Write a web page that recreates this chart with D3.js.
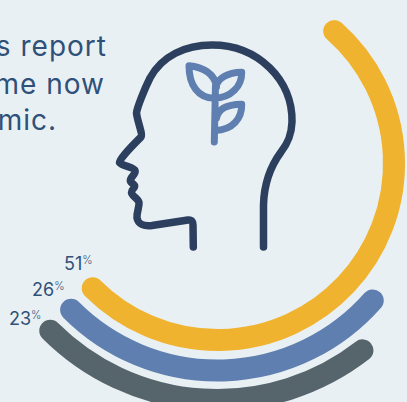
<!DOCTYPE html>
<html>
<head>
<meta charset="utf-8">
<script src="https://cdn.jsdelivr.net/npm/d3@7/dist/d3.min.js"></script>
<style>
  html, body { margin: 0; padding: 0; background: #e9f0f4; overflow: hidden; }
  svg { display: block; font-family: Inter, "Open Sans", sans-serif; }
</style>
</head>
<body>
<svg id="chart" width="407" height="402"></svg>
<script>
// Share of respondents per ring, outermost ring last
const shares = [51, 26, 23];
const shareLabels = ["51", "26", "23"];
const ringColors = ["#f0b32f", "#5f7fb0", "#56646c"];
const ringRadii = [176.5, 207, 236.5];
const labelAnchors = [[64, 270], [32, 296], [9, 325]];
const headlineLines = ["s report", "me now", "mic."];
const headlineEnds = [107, 105, 57];
const headlineBaselines = [55.7, 94.3, 130.3];

const svg = d3.select("#chart");
const cx = 217.5, cy = 163.5;

// 100% is one full turn, running counter-clockwise from the lower left
const angle = d3.scaleLinear().domain([0, 100]).range([225, -135]);
const toCanvas = deg => (deg - 90) * Math.PI / 180;

const rings = svg.append("g").attr("transform", `translate(${cx},${cy})`);
rings.selectAll("path")
  .data(shares)
  .join("path")
  .attr("d", (d, i) => {
    const p = d3.path();
    p.arc(0, 0, ringRadii[i], toCanvas(angle(0)), toCanvas(angle(d)), true);
    return p.toString();
  })
  .attr("fill", "none")
  .attr("stroke", (d, i) => ringColors[i])
  .attr("stroke-width", 22)
  .attr("stroke-linecap", "round");

// Head outline
svg.append("path")
  .attr("d", "M193.3,247 L193,225 C193,221 191,219.5 188,220 L152,225.5 C144,226.5 138,224 137,218 C136.5,212 139.5,207 139,202.5 C138,198 131.5,196 131.5,192.5 C131.5,189 135.5,188 134.5,185.5 C133.5,183 129.5,183 130.5,179.5 C131.5,176 136,174 135,170.5 C134,167 122,166 119.5,162.5 C119,160 128,150 141,137 C143,134 137,120 136.5,113 C137,108 144,90 150,78 C162,56 185,45 212,45 C258,45 293,80 292,122 C291.5,135 288,143 281,152 C270,167 264,184 263.5,205 L263.5,247")
  .attr("fill", "none")
  .attr("stroke", "#2c3f5e")
  .attr("stroke-width", 7.5)
  .attr("stroke-linecap", "round")
  .attr("stroke-linejoin", "round");

// Sprout inside the head
svg.append("path")
  .attr("d", "M214.3,142 L215.5,85 M214.3,98.3 C198,98 189,85 189,65.7 C203,67 215,74 216.5,87 M215.7,88 C217,78 228,72.5 241.7,72.3 C242,86 231,98 214.3,98.3 M216.5,118 C218,110 226,104.5 241.7,104.3 C242,118 233,130 215,130.5")
  .attr("fill", "none")
  .attr("stroke", "#5f7fb0")
  .attr("stroke-width", 7)
  .attr("stroke-linecap", "round")
  .attr("stroke-linejoin", "round");

// Headline, running off the left edge
svg.append("g").selectAll("text")
  .data(headlineLines)
  .join("text")
  .attr("x", (d, i) => headlineEnds[i])
  .attr("y", (d, i) => headlineBaselines[i])
  .attr("text-anchor", "end")
  .attr("font-size", 28)
  .attr("letter-spacing", 1)
  .attr("fill", "#2f5078")
  .text(d => d);

// Ring value labels with a small raised percent sign
const labels = svg.append("g").selectAll("text")
  .data(shareLabels)
  .join("text")
  .attr("x", (d, i) => labelAnchors[i][0])
  .attr("y", (d, i) => labelAnchors[i][1])
  .attr("font-size", 18)
  .attr("fill", "#2f5078");
labels.append("tspan").text(d => d);
labels.append("tspan").text("%").attr("font-size", 11).attr("font-weight", 300).attr("dy", -6);
</script>
</body>
</html>
